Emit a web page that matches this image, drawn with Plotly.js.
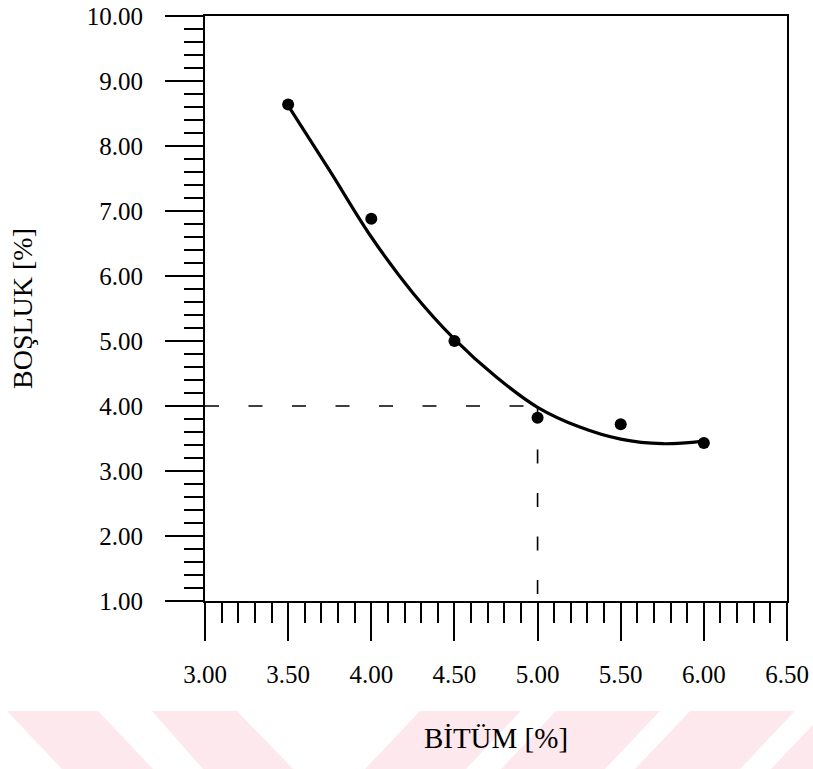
<!DOCTYPE html>
<html>
<head>
<meta charset="utf-8">
<script src="https://cdn.plot.ly/plotly-3.0.1.min.js"></script>
<style>
html,body{margin:0;padding:0;background:#fff;}
#chart{width:813px;height:769px;}
</style>
</head>
<body>
<div id="chart"></div>
<script>
// Measured points: bitumen content [%] vs air voids [%]
var bitumen = [3.5, 4.0, 4.5, 5.0, 5.5, 6.0];
var voids = [8.64, 6.88, 5.00, 3.82, 3.72, 3.43];

// Fitted curve, values
var curveX = [3.5, 3.75, 4.0, 4.25, 4.5, 4.75, 5.0, 5.25, 5.5, 5.75, 6.0];
var curveY = [8.62, 7.62, 6.60, 5.74, 5.03, 4.45, 3.98, 3.68, 3.49, 3.42, 3.46];

// Design reading: 4 % voids -> 5 % bitumen
var targetVoids = 4.0;
var optimumBitumen = 5.0;
var curveAtTarget = 4.95;

var xTicks = [3.0, 3.5, 4.0, 4.5, 5.0, 5.5, 6.0, 6.5];
var yTicks = [1, 2, 3, 4, 5, 6, 7, 8, 9, 10];

var xTitle = 'BİTÜM [%]';
var yTitle = 'BOŞLUK [%]';

// plot area in pixels
var W = 813, H = 769;
var L = 205, R = 787, T = 16, B = 601;
function px(x){ return (x - L) / (R - L); }
function py(y){ return (B - y) / (B - T); }

// watermark stripes (decorative background band)
var bandTop = 711, bandBot = 769;
var stripes = [
  {top:[7,98], bot:[62,153]},
  {top:[152,237], bot:[203,293]},
  {top:[420,521], bot:[365,466]},
  {top:[556,660], bot:[501,605]},
  {top:[690,795], bot:[635,740]},
  {top:[826,930], bot:[771,875]}
];
var shapes = stripes.map(function(s){
  var p = 'M' + px(s.top[0]) + ',' + py(bandTop) +
          ' L' + px(s.top[1]) + ',' + py(bandTop) +
          ' L' + px(s.bot[1]) + ',' + py(bandBot) +
          ' L' + px(s.bot[0]) + ',' + py(bandBot) + ' Z';
  return {type:'path', xref:'paper', yref:'paper', path:p,
          fillcolor:'#fde9ed', line:{width:0}, layer:'below'};
});

var traces = [
  {x:[3.0, curveAtTarget], y:[targetVoids, targetVoids], mode:'lines',
   line:{color:'#000', width:1.6, dash:'14px,29.5px'}, hoverinfo:'skip', showlegend:false},
  {x:[optimumBitumen, optimumBitumen], y:[targetVoids, 1.0], mode:'lines',
   line:{color:'#000', width:1.6, dash:'14px,29.5px'}, hoverinfo:'skip', showlegend:false},
  {x:curveX, y:curveY, mode:'lines', line:{color:'#000', width:3.2, shape:'spline', smoothing:1},
   showlegend:false},
  {x:bitumen, y:voids, mode:'markers', marker:{color:'#000', size:12}, showlegend:false}
];

var tickFont = {family:'"Liberation Serif", "Times New Roman", serif', size:25, color:'#000'};
var titleFont = {family:'"Liberation Serif", "Times New Roman", serif', size:29, color:'#000'};

var layout = {
  width:W, height:H,
  margin:{l:L, r:W-R, t:T, b:H-B, pad:0},
  paper_bgcolor:'#fff', plot_bgcolor:'rgba(0,0,0,0)',
  showlegend:false,
  shapes:shapes,
  xaxis:{
    range:[3.0, 6.5], tickvals:xTicks, tickformat:'.2f',
    showgrid:false, zeroline:false,
    showline:true, linecolor:'#000', linewidth:2, mirror:true,
    ticks:'outside', ticklen:38, tickwidth:2, tickcolor:'#000',
    minor:{dtick:0.1, ticks:'outside', ticklen:20, tickwidth:2, tickcolor:'#000', showgrid:false},
    tickfont:tickFont, ticklabelstandoff:12, ticklabeloverflow:'allow',
    title:{text:xTitle, font:titleFont, standoff:41},
    automargin:false, fixedrange:true
  },
  yaxis:{
    range:[1.0, 10.0], tickvals:yTicks, tickformat:'.2f',
    showgrid:false, zeroline:false,
    showline:true, linecolor:'#000', linewidth:2, mirror:true,
    ticks:'outside', ticklen:38, tickwidth:2, tickcolor:'#000',
    minor:{dtick:0.2, ticks:'outside', ticklen:19, tickwidth:2, tickcolor:'#000', showgrid:false},
    tickfont:tickFont, ticklabelstandoff:17,
    title:{text:yTitle, font:{family:titleFont.family, size:28, color:'#000'}, standoff:46},
    automargin:false, fixedrange:true
  }
};

Plotly.newPlot('chart', traces, layout, {staticPlot:true, displayModeBar:false});
</script>
</body>
</html>
